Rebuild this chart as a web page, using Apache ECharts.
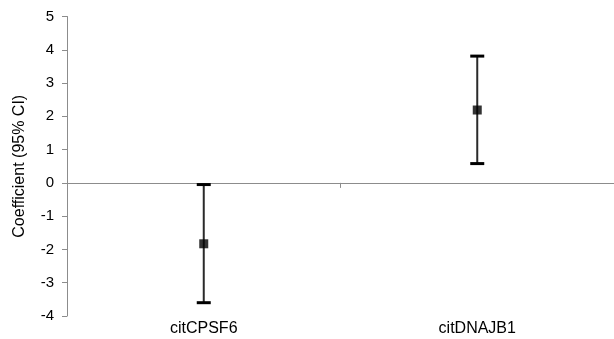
<!DOCTYPE html>
<html>
<head>
<meta charset="utf-8">
<script src="https://cdn.jsdelivr.net/npm/echarts@6/dist/echarts.min.js"></script>
<style>
html,body{margin:0;padding:0;background:#fff;}
#chart{width:614px;height:339px;}
</style>
</head>
<body>
<div id="chart"></div>
<script>
var categories = ['citCPSF6', 'citDNAJB1'];
var coefficient = [-1.83, 2.19];
var ciLower = [-3.6, 0.58];
var ciUpper = [-0.05, 3.81];
var yTicks = [-4, -3, -2, -1, 0, 1, 2, 3, 4, 5];

var chart = echarts.init(document.getElementById('chart'), null, {renderer: 'canvas'});

var errData = categories.map(function (c, i) { return [i, ciLower[i], ciUpper[i]]; });
var ptData = categories.map(function (c, i) { return [i, coefficient[i]]; });

var option = {
  animation: false,
  backgroundColor: '#fff',
  grid: {left: 67, right: -3, top: 16.5, bottom: 23, containLabel: false},
  xAxis: [
    {
      type: 'category', data: categories, position: 'bottom',
      axisLine: {onZero: true, lineStyle: {color: '#8c8c8c', width: 1}},
      axisTick: {show: true, length: 5, lineStyle: {color: '#8c8c8c'}},
      axisLabel: {show: false},
      splitLine: {show: false}
    },
    {
      type: 'category', data: categories, position: 'bottom',
      axisLine: {show: false, onZero: false},
      axisTick: {show: false},
      axisLabel: {show: true, margin: 5, fontSize: 16, color: '#000', fontFamily: 'Liberation Sans, Arial, sans-serif'},
      splitLine: {show: false}
    }
  ],
  yAxis: {
    type: 'value', min: yTicks[0], max: yTicks[yTicks.length - 1], interval: 1,
    name: 'Coefficient (95% CI)', nameLocation: 'middle', nameGap: 39,
    nameTextStyle: {fontSize: 16, color: '#000', fontFamily: 'Liberation Sans, Arial, sans-serif'},
    axisLine: {show: true, lineStyle: {color: '#8c8c8c', width: 1}},
    axisTick: {show: true, length: 5, inside: false, lineStyle: {color: '#8c8c8c'}},
    axisLabel: {margin: 13, fontSize: 15, color: '#000', fontFamily: 'Liberation Sans, Arial, sans-serif'},
    splitLine: {show: false}
  },
  series: [
    {
      type: 'custom', xAxisIndex: 0,
      data: errData,
      renderItem: function (params, api) {
        var x = api.value(0);
        var lo = api.coord([x, api.value(1)]);
        var hi = api.coord([x, api.value(2)]);
        var hw = 7;
        return {
          type: 'group',
          children: [
            {type: 'line', shape: {x1: lo[0], y1: lo[1], x2: hi[0], y2: hi[1]}, style: {stroke: '#2a2a2a', lineWidth: 2}},
            {type: 'line', shape: {x1: lo[0] - hw, y1: lo[1], x2: lo[0] + hw, y2: lo[1]}, style: {stroke: '#000', lineWidth: 3}},
            {type: 'line', shape: {x1: hi[0] - hw, y1: hi[1], x2: hi[0] + hw, y2: hi[1]}, style: {stroke: '#000', lineWidth: 3}}
          ]
        };
      },
      z: 2
    },
    {
      type: 'scatter', xAxisIndex: 0,
      data: ptData,
      symbol: 'rect', symbolSize: 9,
      itemStyle: {color: '#000'},
      z: 3
    }
  ]
};
chart.setOption(option);
</script>
</body>
</html>
